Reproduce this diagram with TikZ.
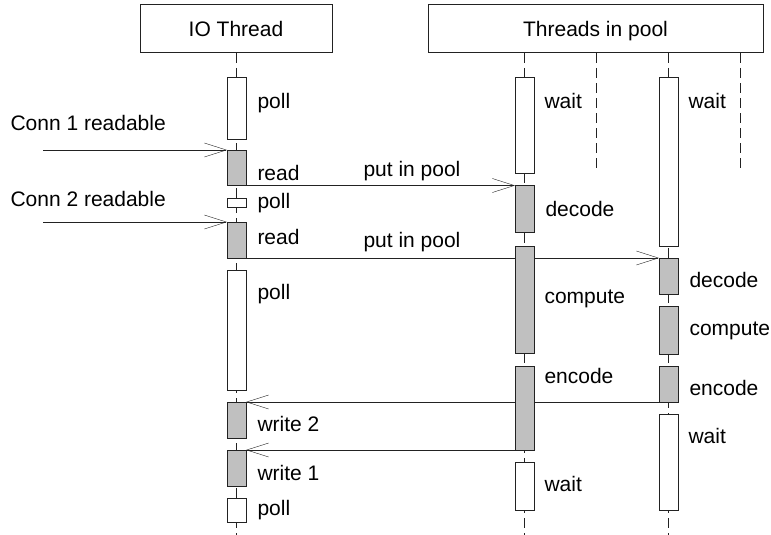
\documentclass[tikz,border=0pt]{standalone}
\usepackage{fontspec}
\setmainfont{Liberation Sans}
\usetikzlibrary{arrows.meta,fit,backgrounds}
\definecolor{linec}{HTML}{222222}
\definecolor{busyc}{HTML}{C0C0C0}
\begin{document}
\begin{tikzpicture}[x=1pt,y=-1pt,line width=1pt,
  font=\fontsize{21}{25}\selectfont,
  hdr/.style={draw=linec,fill=white,inner sep=0pt,outer sep=0pt,text height=15.4pt,text depth=0pt},
  idle/.style={draw=linec,fill=white,inner sep=0pt,outer sep=0pt},
  busy/.style={draw=linec,fill=busyc,inner sep=0pt,outer sep=0pt},
  life/.style={draw=linec,dash pattern=on 10pt off 5pt},
  msg/.style={draw=linec,-{Straight Barb[length=22pt,width=14pt]}},
  lbl/.style={anchor=base west,inner sep=0pt}]
\useasboundingbox (0,0) rectangle (771,535);
% headers
\node[hdr,minimum width=192pt,minimum height=48pt] (hio) at (236,29) {IO Thread};
\node[hdr,minimum width=335pt,minimum height=48pt] (hpool) at (595.5,29) {Threads in pool};
% IO thread activations
\node[idle,fit={(227,78)(246,139)}] (io1) {};
\node[busy,fit={(227,150)(246,185.5)}] (io2) {};
\node[idle,fit={(227,198)(246,207)}] (io3) {};
\node[busy,fit={(227,222)(246,258)}] (io4) {};
\node[idle,fit={(227,270)(246,390)}] (io5) {};
\node[busy,fit={(227,402)(246,438)}] (io6) {};
\node[busy,fit={(227,450)(246,486)}] (io7) {};
\node[idle,fit={(227,498)(246,522)}] (io8) {};
% pool thread 1
\node[idle,fit={(515,78)(534,173.7)}] (pa1) {};
\node[busy,fit={(515,185.5)(534,232.7)}] (pa2) {};
\node[busy,fit={(515,246)(534,353)}] (pa3) {};
\node[busy,fit={(515,366)(534,450)}] (pa4) {};
\node[idle,fit={(515,462)(534,510)}] (pa5) {};
% pool thread 2
\node[idle,fit={(659,78)(678,246)}] (pb1) {};
\node[busy,fit={(659,258)(678,294)}] (pb2) {};
\node[busy,fit={(659,306)(678,354)}] (pb3) {};
\node[busy,fit={(659,366)(678,402)}] (pb4) {};
\node[idle,fit={(659,414)(678,510)}] (pb5) {};
% free ends
\coordinate (ioEnd) at (236.5,535);
\coordinate (paEnd) at (524.5,535);
\coordinate (pbEnd) at (668.5,535);
\coordinate (paTop) at (524.5,53);
\coordinate (pbTop) at (668.5,53);
\coordinate (ioTop) at (236.5,53);
\coordinate (xaTop) at (596,53);
\coordinate (xaEnd) at (596,172);
\coordinate (xbTop) at (740,53);
\coordinate (xbEnd) at (740,172);
\coordinate (c1) at (43,150);
\coordinate (c2) at (43,222);
\begin{scope}[on background layer]
  \draw[life] (ioTop) -- (ioEnd);
  \draw[life] (paTop) -- (paEnd);
  \draw[life] (pbTop) -- (pbEnd);
  \draw[life] (xaTop) -- (xaEnd);
  \draw[life] (xbTop) -- (xbEnd);
  \draw[msg] (c1) -- (io2.north west);
  \draw[msg] (c2) -- (io4.north west);
  \draw[msg] (io2.south east) -- (pa2.north west);
  \draw[msg] (io4.south east) -- (pb2.north west);
  \draw[msg] (pb4.south west) -- (io6.north east);
  \draw[msg] (pa4.south west) -- (io7.north east);
\end{scope}
% labels
\node[lbl] (lc1) at (10,130) {Conn 1 readable};
\node[lbl] (lc2) at (10,206) {Conn 2 readable};
\node[lbl] (lp1) at (363,176) {put in pool};
\node[lbl] (lp2) at (363,247) {put in pool};
\node[lbl] (l1) at (257,108.3) {poll};
\node[lbl] (l2) at (257,180) {read};
\node[lbl] (l3) at (257,208.5) {poll};
\node[lbl] (l4) at (257,244) {read};
\node[lbl] (l5) at (257,299) {poll};
\node[lbl] (l6) at (257,431.7) {write 2};
\node[lbl] (l7) at (257,480) {write 1};
\node[lbl] (l8) at (257,515) {poll};
\node[lbl] (la1) at (544,108.3) {wait};
\node[lbl] (la2) at (545,216) {decode};
\node[lbl] (la3) at (544,303.7) {compute};
\node[lbl] (la4) at (544,383) {encode};
\node[lbl] (la5) at (544,491.7) {wait};
\node[lbl] (lb1) at (688,108.3) {wait};
\node[lbl] (lb2) at (689,287) {decode};
\node[lbl] (lb3) at (689,335) {compute};
\node[lbl] (lb4) at (689,395) {encode};
\node[lbl] (lb5) at (688,443) {wait};
\end{tikzpicture}
\end{document}
